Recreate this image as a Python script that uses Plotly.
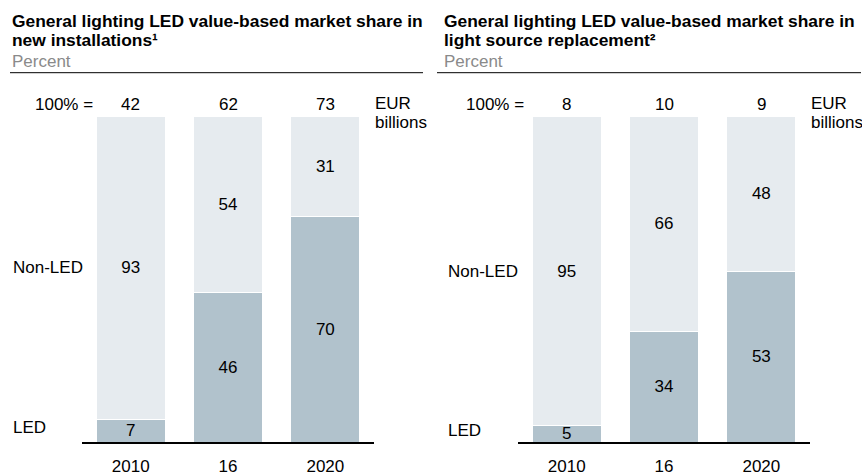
import plotly.graph_objects as go

# ---------------- data ----------------
years = ["2010", "16", "2020"]
led_new = [7, 46, 70]
nonled_new = [93, 54, 31]
totals_new = [42, 62, 73]

led_repl = [5, 34, 53]
nonled_repl = [95, 66, 48]
totals_repl = [8, 10, 9]

title_new = ["General lighting LED value-based market share in", "new installations¹"]
title_repl = ["General lighting LED value-based market share in", "light source replacement²"]

# ---------------- style ----------------
W, H = 862, 476
FONT = "Liberation Sans, Arial, sans-serif"
FS = 17
TFS = 17.4
LED_C = "#b1c2cc"
NON_C = "#e6ebef"


def px_x(p):
    return p / W


def px_y(p):
    return 1 - p / H


fig = go.Figure()

panels = [
    dict(xa="x", ya="y", led=led_new, non=nonled_new, tot=totals_new, title=title_new,
         x0=10, pct_r=95, eur=373, lab=11, rule=(10, 423)),
    dict(xa="x2", ya="y2", led=led_repl, non=nonled_repl, tot=totals_repl, title=title_repl,
         x0=442, pct_r=526, eur=809, lab=446, rule=(437, 861)),
]

annotations = []
shapes = []
for p in panels:
    fig.add_trace(go.Bar(
        x=years, y=p["led"], name="LED", xaxis=p["xa"], yaxis=p["ya"],
        marker=dict(color=LED_C, line=dict(color="white", width=1)),
        text=[str(v) for v in p["led"]], textposition="inside", insidetextanchor="middle",
        textangle=0, constraintext="none",
        textfont=dict(family=FONT, size=FS, color="black"), hoverinfo="skip",
    ))
    fig.add_trace(go.Bar(
        x=years, y=p["non"], name="Non-LED", xaxis=p["xa"], yaxis=p["ya"],
        marker=dict(color=NON_C, line=dict(color="white", width=1)),
        text=[str(v) for v in p["non"]], textposition="inside", insidetextanchor="middle",
        textangle=0, constraintext="none",
        textfont=dict(family=FONT, size=FS, color="black"), hoverinfo="skip",
    ))
    # titles
    annotations.append(dict(text="<b>%s</b>" % p["title"][0], x=px_x(p["x0"]), y=px_y(21),
                            xref="paper", yref="paper", xanchor="left", yanchor="middle",
                            showarrow=False, font=dict(family=FONT, size=TFS, color="black")))
    annotations.append(dict(text="<b>%s</b>" % p["title"][1], x=px_x(p["x0"]), y=px_y(40),
                            xref="paper", yref="paper", xanchor="left", yanchor="middle",
                            showarrow=False, font=dict(family=FONT, size=TFS, color="black")))
    annotations.append(dict(text="Percent", x=px_x(p["x0"]), y=px_y(62),
                            xref="paper", yref="paper", xanchor="left", yanchor="middle",
                            showarrow=False, font=dict(family=FONT, size=FS, color="#8a8a8a")))
    shapes.append(dict(type="line", xref="paper", yref="paper",
                       x0=px_x(p["rule"][0]), x1=px_x(p["rule"][1]), y0=px_y(73), y1=px_y(73),
                       line=dict(color="black", width=1)))
    # 100% = row
    annotations.append(dict(text="100% =", x=px_x(p["pct_r"]), y=px_y(105),
                            xref="paper", yref="paper", xanchor="right", yanchor="middle",
                            showarrow=False, font=dict(family=FONT, size=FS, color="black")))
    for i, t in enumerate(p["tot"]):
        annotations.append(dict(text=str(t), x=i, y=px_y(105), xref=p["xa"], yref="paper",
                                xanchor="center", yanchor="middle", showarrow=False,
                                font=dict(family=FONT, size=FS, color="black")))
    annotations.append(dict(text="EUR", x=px_x(p["eur"]), y=px_y(104),
                            xref="paper", yref="paper", xanchor="left", yanchor="middle",
                            showarrow=False, font=dict(family=FONT, size=FS, color="black")))
    annotations.append(dict(text="billions", x=px_x(p["eur"]), y=px_y(123),
                            xref="paper", yref="paper", xanchor="left", yanchor="middle",
                            showarrow=False, font=dict(family=FONT, size=FS, color="black")))
    # segment labels
    annotations.append(dict(text="Non-LED", x=px_x(p["lab"]), y=p["led"][0] + p["non"][0] / 2,
                            xref="paper", yref=p["ya"], xanchor="left", yanchor="middle",
                            showarrow=False, font=dict(family=FONT, size=FS, color="black")))
    annotations.append(dict(text="LED", x=px_x(p["lab"]), y=p["led"][0] / 2 + 1,
                            xref="paper", yref=p["ya"], xanchor="left", yanchor="middle",
                            showarrow=False, font=dict(family=FONT, size=FS, color="black")))

ydom = [px_y(444), px_y(117)]
axis_common = dict(showgrid=False, zeroline=False, showline=True, linecolor="black", linewidth=2,
                   ticks="outside", ticklen=7, tickcolor="rgba(0,0,0,0)",
                   tickfont=dict(family=FONT, size=FS, color="black"), fixedrange=True,
                   range=[-0.5, 2.5], type="category")
yaxis_common = dict(range=[0, 100], domain=ydom, visible=False, fixedrange=True)

fig.update_layout(
    width=W, height=H,
    margin=dict(l=0, r=0, t=0, b=0),
    paper_bgcolor="white", plot_bgcolor="white",
    barmode="stack", barnorm="percent", bargap=0.289,
    showlegend=False,
    xaxis=dict(domain=[px_x(82), px_x(374)], anchor="y", **axis_common),
    xaxis2=dict(domain=[px_x(518), px_x(810)], anchor="y2", **axis_common),
    yaxis=dict(anchor="x", **yaxis_common),
    yaxis2=dict(anchor="x2", **yaxis_common),
    annotations=annotations,
    shapes=shapes,
    font=dict(family=FONT, size=FS, color="black"),
)

fig.write_html(
    "out.html",
    config={"displayModeBar": False},
    post_script="document.body.style.margin='0';document.body.style.overflow='hidden';",
)
